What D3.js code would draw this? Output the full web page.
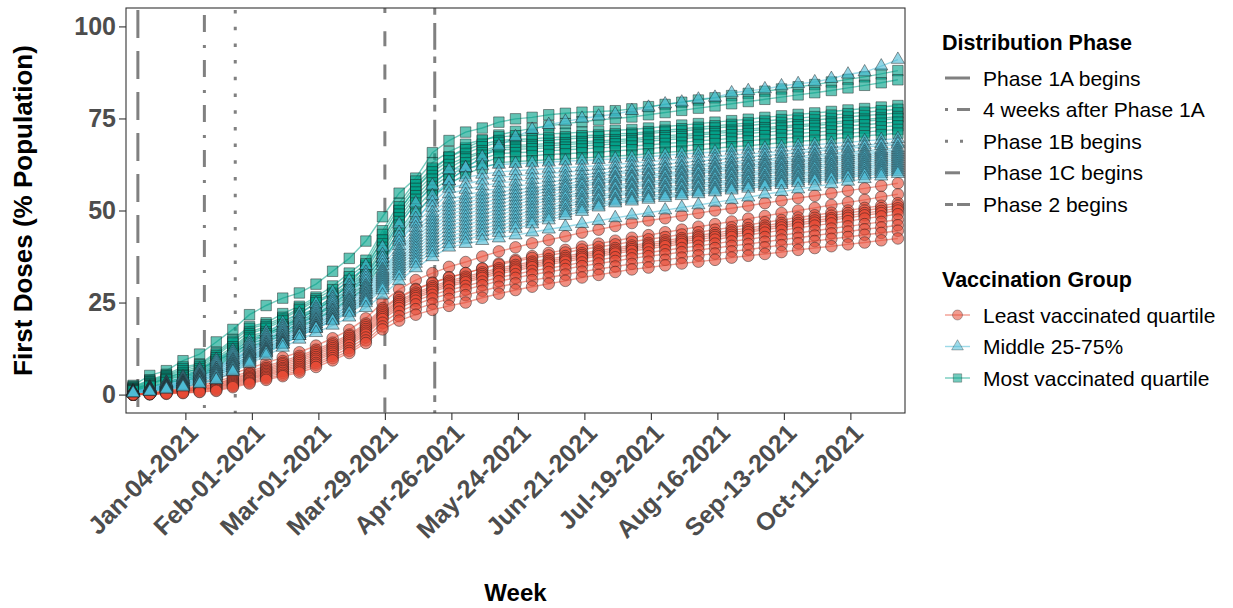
<!DOCTYPE html>
<html>
<head>
<meta charset="utf-8">
<script src="https://cdn.jsdelivr.net/npm/d3@7"></script>
<style>
  body { margin: 0; background: #fff; font-family: "Liberation Sans", Arial, sans-serif; }
</style>
</head>
<body>
<div id="chart"></div>
<script>
// weekly first-dose coverage, one value per week (Sundays) from firstWeek to lastWeek
var firstWeek = "2020-12-13", lastWeek = "2021-10-31";

var tickDates = ["2021-01-04","2021-02-01","2021-03-01","2021-03-29","2021-04-26","2021-05-24",
                 "2021-06-21","2021-07-19","2021-08-16","2021-09-13","2021-10-11"];
var tickLabels = ["Jan-04-2021","Feb-01-2021","Mar-01-2021","Mar-29-2021","Apr-26-2021","May-24-2021",
                  "Jun-21-2021","Jul-19-2021","Aug-16-2021","Sep-13-2021","Oct-11-2021"];
var yTicks = [0, 25, 50, 75, 100];

var phaseNames = ["Phase 1A begins","4 weeks after Phase 1A","Phase 1B begins","Phase 1C begins","Phase 2 begins"];
var phaseDates = ["2020-12-15","2021-01-12","2021-01-25","2021-03-29","2021-04-19"];

var groupNames = ["Least vaccinated quartile","Middle 25-75%","Most vaccinated quartile"];

// Least vaccinated quartile (% population with first dose)
var leastVax = [
 [0,0.4,1.1,1.9,3,4.3,5.7,7.2,8.6,10.1,11.5,13.3,15.3,17.6,20.7,25,28.6,31.1,33,34.7,36,37.5,38.9,40,41.1,42,43,44,44.8,45.8,46.6,47.3,47.9,48.6,49.3,50,50.6,51.3,52,52.7,53.4,54,54.7,55.4,56,56.7,57.4],
 [0,0.3,0.9,1.6,2.5,3.5,4.9,6.3,7.7,9.1,10.5,12.2,14.1,16.3,19.3,23.5,26.6,28.7,30.4,31.9,33,34.3,35.6,36.6,37.6,38.5,39.3,40.2,41,41.8,42.6,43.3,44.1,44.8,45.6,46.3,47,47.8,48.5,49.3,50,50.7,51.5,52.2,52.9,53.7,54.4],
 [0,0.3,0.8,1.4,2.1,3,4.4,5.8,7.2,8.6,10,11.7,13.6,15.9,18.8,23,26.3,28.5,30.3,31.8,33,34.2,35.3,36.2,37.1,37.8,38.6,39.4,40.1,40.8,41.5,42.2,42.8,43.5,44.1,44.8,45.4,46.1,46.8,47.4,48.1,48.7,49.4,50,50.7,51.3,52],
 [0,0.3,0.7,1.3,2,2.8,4.1,5.5,6.8,8.2,9.5,11.2,13.1,15.4,18.3,22.5,25.6,27.7,29.4,30.9,32,33.2,34.3,35.2,36.1,36.8,37.6,38.4,39.1,39.8,40.5,41.2,41.9,42.5,43.2,43.9,44.6,45.2,45.9,46.6,47.3,48,48.6,49.3,50,50.6,51.3],
 [0,0.2,0.6,1.1,1.8,2.5,3.8,5.1,6.4,7.7,9,10.7,12.6,14.9,17.8,22,25.1,27.2,28.9,30.4,31.5,32.7,33.8,34.7,35.6,36.3,37.1,37.9,38.6,39.3,40,40.7,41.3,42,42.7,43.3,44,44.6,45.3,46,46.6,47.3,47.9,48.6,49.3,49.9,50.6],
 [0,0.2,0.5,1,1.5,2.2,3.5,4.7,6,7.2,8.5,10.2,12.1,14.4,17.3,21.5,24.6,26.7,28.4,29.9,31,32.2,33.3,34.2,35.1,35.8,36.6,37.4,38.1,38.8,39.5,40.2,40.8,41.5,42.1,42.8,43.4,44.1,44.8,45.4,46.1,46.7,47.4,48,48.7,49.3,50],
 [0,0.2,0.5,0.9,1.4,2,3.2,4.4,5.6,6.8,8,9.7,11.6,13.9,16.8,21,24.1,26.2,27.9,29.4,30.5,31.7,32.8,33.7,34.6,35.3,36.1,36.9,37.6,38.3,39,39.6,40.3,40.9,41.5,42.1,42.8,43.4,44,44.6,45.3,45.9,46.5,47.1,47.8,48.4,49],
 [0,0.2,0.5,0.8,1.3,1.8,2.9,4.1,5.2,6.4,7.5,9.2,11.1,13.4,16.3,20.5,23.5,25.5,27.1,28.4,29.5,30.7,31.8,32.7,33.6,34.3,35.1,35.9,36.6,37.3,38,38.6,39.2,39.8,40.4,41,41.6,42.2,42.8,43.3,43.9,44.5,45.1,45.7,46.3,46.9,47.5],
 [0,0.1,0.4,0.7,1.1,1.5,2.6,3.7,4.8,5.9,7,8.6,10.5,12.6,15.5,19.5,22.5,24.5,26.1,27.4,28.5,29.7,30.8,31.7,32.6,33.3,34.1,34.9,35.6,36.3,37,37.6,38.1,38.7,39.3,39.8,40.4,40.9,41.5,42.1,42.6,43.2,43.8,44.3,44.9,45.4,46],
 [0,0.1,0.3,0.5,0.8,1.2,2.3,3.3,4.4,5.4,6.5,8.1,9.9,11.9,14.7,18.5,21.3,23.2,24.7,26,27,28.2,29.3,30.2,31.1,31.8,32.6,33.4,34.1,34.8,35.5,36.1,36.6,37.2,37.8,38.3,38.9,39.4,40,40.6,41.1,41.7,42.3,42.8,43.4,43.9,44.5],
 [0,0.1,0.2,0.4,0.7,1,2,3,4,5,6,7.5,9.3,11.3,14,17.7,20.1,21.7,23,24.1,25,26.3,27.4,28.4,29.3,30.1,30.9,31.8,32.5,33.3,34,34.5,35.1,35.6,36.1,36.6,37.2,37.7,38.2,38.7,39.3,39.8,40.3,40.8,41.3,41.9,42.4]
];

// Middle 25-75%
var middleVax = [
 [1,2,3,4,5.5,7.5,9.5,12,14.5,17,19,21.5,24.5,28,32,37,42,47,53,58,61.5,64.5,67.5,70,72,73.3,74.2,75,75.6,76.2,77.1,78,78.9,79.4,80.2,80.7,81.9,82.5,83,83.8,84.4,84.9,85.8,87,87.6,89.2,91],
 [0.9,1.9,3.3,4.8,6.9,9.5,12,14.5,17,19.5,22,24.7,27.8,31,35,40,46.3,52,56.8,61,61.6,62.1,62.5,62.7,62.9,63.1,63.4,63.6,63.8,64,64.3,64.6,65,65.3,65.6,65.9,66.3,66.6,66.9,67.2,67.6,67.9,68.2,68.5,68.9,69.2,69.5],
 [0.9,1.9,3.2,4.6,6.6,9,11.4,13.8,16.2,18.6,21,23.6,26.4,29.5,33.2,38,44,49.4,54,58,59,59.8,60.5,60.8,61.1,61.4,61.6,61.9,62.2,62.5,62.9,63.2,63.6,63.9,64.3,64.6,65,65.3,65.7,66,66.4,66.7,67.1,67.4,67.8,68.1,68.5],
 [0.8,1.7,3,4.3,6.2,8.5,10.9,13.3,15.7,18.1,20.5,23,25.8,28.8,32.4,37,42.7,47.8,52.2,56,57.2,58.2,59,59.4,59.7,60.1,60.4,60.8,61.1,61.5,61.9,62.3,62.6,63,63.4,63.8,64.2,64.6,64.9,65.3,65.7,66.1,66.5,66.9,67.2,67.6,68],
 [0.8,1.7,2.8,4,5.8,8,10.4,12.8,15.2,17.6,20,22.4,25.1,28,31.5,36,41.6,46.5,50.8,54.5,55.7,56.7,57.5,57.9,58.4,58.8,59.2,59.6,60.1,60.5,60.9,61.3,61.6,62,62.4,62.8,63.2,63.6,63.9,64.3,64.7,65.1,65.5,65.9,66.2,66.6,67],
 [0.8,1.6,2.7,3.8,5.5,7.5,9.9,12.3,14.7,17.1,19.5,21.8,24.5,27.3,30.7,35,40.4,45.3,49.4,53,54.2,55.2,56,56.6,57.1,57.7,58.3,58.9,59.4,60,60.4,60.8,61.1,61.5,61.9,62.3,62.7,63.1,63.4,63.8,64.2,64.6,65,65.4,65.7,66.1,66.5],
 [0.7,1.5,2.5,3.5,5.1,7,9.4,11.8,14.2,16.6,19,21.3,23.8,26.5,29.8,34,39.4,44.3,48.4,52,53.2,54.2,55,55.6,56.1,56.7,57.3,57.9,58.4,59,59.4,59.8,60.2,60.6,61.1,61.5,61.9,62.3,62.7,63.1,63.5,63.9,64.4,64.8,65.2,65.6,66],
 [0.7,1.5,2.5,3.5,5.1,7,9.3,11.6,13.9,16.2,18.5,20.8,23.3,26,29.3,33.5,38.8,43.5,47.5,51,52.2,53.2,54,54.6,55.3,55.9,56.6,57.2,57.9,58.5,58.9,59.3,59.7,60.1,60.6,61,61.4,61.8,62.2,62.6,63,63.4,63.9,64.3,64.7,65.1,65.5],
 [0.7,1.4,2.3,3.3,4.8,6.5,8.8,11.1,13.4,15.7,18,20.3,22.8,25.5,28.8,33,38.1,42.7,46.6,50,51.2,52.2,53,53.7,54.4,55.1,55.9,56.6,57.3,58,58.4,58.8,59.2,59.6,60.1,60.5,60.9,61.3,61.7,62.1,62.5,62.9,63.4,63.8,64.2,64.6,65],
 [0.6,1.3,2.3,3.3,4.7,6.5,8.8,11.1,13.4,15.7,18,20.2,22.6,25.3,28.4,32.5,37.5,41.9,45.7,49,50.2,51.2,52,52.7,53.4,54.1,54.9,55.6,56.3,57,57.4,57.9,58.3,58.8,59.2,59.6,60.1,60.5,61,61.4,61.9,62.3,62.7,63.2,63.6,64.1,64.5],
 [0.6,1.2,2.1,3,4.4,6,8.3,10.6,12.9,15.2,17.5,19.7,22.1,24.8,27.9,32,36.8,41.1,44.8,48,49.2,50.2,51,51.8,52.6,53.4,54.1,54.9,55.7,56.5,56.9,57.4,57.8,58.3,58.7,59.1,59.6,60,60.5,60.9,61.4,61.8,62.2,62.7,63.1,63.6,64],
 [0.6,1.2,2.1,3,4.4,6,8.2,10.4,12.6,14.8,17,19.2,21.6,24.3,27.4,31.5,36.2,40.3,43.9,47,48.2,49.2,50,50.9,51.7,52.6,53.4,54.3,55.1,56,56.4,56.9,57.3,57.8,58.2,58.6,59.1,59.5,60,60.4,60.9,61.3,61.7,62.2,62.6,63.1,63.5],
 [0.6,1.2,2,2.8,4,5.5,7.8,10.1,12.4,14.7,17,19.1,21.5,24,27.1,31,35.5,39.6,43,46,47.2,48.2,49,49.9,50.7,51.6,52.4,53.3,54.1,55,55.5,55.9,56.4,56.9,57.4,57.8,58.3,58.8,59.2,59.7,60.2,60.6,61.1,61.6,62.1,62.5,63],
 [0.5,1.1,1.9,2.8,4,5.5,7.7,9.9,12.1,14.3,16.5,18.6,21,23.5,26.6,30.5,34.9,38.8,42.1,45,46.2,47.2,48,48.9,49.9,50.8,51.7,52.6,53.6,54.5,55,55.4,55.9,56.4,56.9,57.3,57.8,58.3,58.7,59.2,59.7,60.1,60.6,61.1,61.6,62,62.5],
 [0.5,1,1.8,2.5,3.7,5,7.3,9.6,11.9,14.2,16.5,18.5,20.8,23.3,26.2,30,34.2,38,41.2,44,45.2,46.2,47,48,49,50,51,52,53,54,54.5,54.9,55.4,55.9,56.4,56.8,57.3,57.8,58.2,58.7,59.2,59.6,60.1,60.6,61.1,61.5,62],
 [0.5,1,1.8,2.5,3.7,5,7.2,9.4,11.6,13.8,16,18,20.3,22.8,25.7,29.5,33.6,37.2,40.3,43,44.2,45.2,46,47,48,49,50,51,52,53,53.5,54,54.5,55,55.5,56,56.5,57,57.5,58,58.5,59,59.5,60,60.5,61,61.5],
 [0.5,1,1.6,2.3,3.3,4.5,6.8,9.1,11.4,13.7,16,18,20.2,22.5,25.4,29,32.9,36.4,39.4,42,43.2,44.2,45,46.1,47.1,48.2,49.3,50.4,51.4,52.5,53,53.5,54,54.5,55,55.5,56,56.5,57,57.5,58,58.5,59,59.5,60,60.5,61],
 [0.5,0.9,1.5,2.2,3,4,6.4,8.8,11.2,13.6,16,17.9,20,22.2,24.9,28.4,32.2,35.6,38.5,41,42.2,43.2,44,45.1,46.3,47.4,48.6,49.7,50.9,52,52.5,53,53.5,54,54.5,55,55.5,56,56.5,57,57.5,58,58.5,59,59.5,60,60.5],
 [0.4,0.8,1.4,2,2.9,4,6.2,8.4,10.6,12.8,15,16.8,18.8,21,23.6,27,30.9,34.4,37.4,40,41,41.8,42.5,43.3,44.1,44.9,45.6,46.4,47.2,48,48.7,49.4,50.1,50.8,51.5,52.2,52.9,53.6,54.4,55.1,55.8,56.5,57.2,57.9,58.6,59.3,60]
];

// Most vaccinated quartile
var mostVax = [
 [2.5,5.2,6.5,9.2,11,14.3,17.7,21.7,24.2,26.2,27.6,30,33.5,37,41.7,48.3,54.7,58.8,65.7,69,71.3,72.4,74,74.9,75.3,76,76.4,76.7,76.9,77.1,77.6,78.2,78.8,79.4,80,80.6,81.2,81.8,82.4,83,83.6,84.2,84.9,85.6,86.3,87.1,88],
 [1.5,3,4.5,6,7,9,11.5,14,16.5,18.5,20.5,23,26,30,35,42,50,56,61,64.5,67,69,70.5,71.5,72.3,73,73.6,74.1,74.6,75,75.4,76,76.6,77.2,77.8,78.4,79,79.6,80.2,80.8,81.4,82,82.6,83.3,84,84.7,85.5],
 [2.2,4,5.5,7.5,8.3,11.5,15,18.5,19.5,22,24,26.5,29.5,33,36.5,44.5,52,58,63,66,68,69.2,70,70.3,70.5,70.8,71,71.3,71.5,71.8,72,72.4,72.8,73.2,73.6,74,74.4,74.8,75.3,75.7,76.1,76.5,76.9,77.3,77.7,78.1,78.5],
 [2,3.8,5.2,7,8,11,14.5,18,19,21,23.5,26,28.5,32,35.5,43.5,51,57,61.5,64.5,66.5,68,69,69.3,69.5,69.8,70,70.3,70.5,70.8,71,71.4,71.8,72.2,72.6,73,73.4,73.8,74.3,74.7,75.1,75.5,75.9,76.3,76.7,77.1,77.5],
 [1.8,3.5,5,6.5,7.5,10.5,14,17,18.5,20.5,23,25.5,27.5,31,34.5,42,50,56,60.5,63.5,65.5,67.3,68.5,68.7,68.9,69.1,69.4,69.7,70,70.2,70.5,70.9,71.3,71.6,72,72.4,72.8,73.1,73.5,73.9,74.3,74.6,75,75.4,75.8,76.1,76.5],
 [1.6,3.3,4.7,6,7,10,13,16.5,18,20,22,25,27,30,33.5,41,49,55,59.5,62.5,64.5,66.2,67.5,67.7,67.9,68.2,68.4,68.7,68.9,69.2,69.5,69.9,70.3,70.6,71,71.4,71.8,72.1,72.5,72.9,73.3,73.6,74,74.4,74.8,75.1,75.5],
 [1.5,3,4.4,5.5,6.5,9.5,12.5,16,17,19,21.5,23.5,26.5,29.5,32.5,40,48,54,58.5,61.5,64,65.7,67,67.2,67.4,67.6,67.9,68.2,68.4,68.7,69,69.4,69.8,70.1,70.5,70.9,71.3,71.6,72,72.4,72.8,73.1,73.5,73.9,74.3,74.6,75],
 [1.3,2.8,4.2,5.2,6,9,12,15.5,16.5,18.5,21,23,25.5,28.5,32,39,47,53,57.5,60.5,63,65,66.5,66.6,66.8,67,67.2,67.5,67.8,68.1,68.5,68.8,69.2,69.5,69.9,70.2,70.6,70.9,71.3,71.6,71.9,72.3,72.6,73,73.3,73.7,74],
 [1.2,2.6,4,5,5.5,8.5,11.5,15,16,18,20,22,24.5,28,31,38,46,52,56.5,59.5,62,64,65.5,65.7,65.9,66.2,66.5,66.7,67,67.2,67.5,67.8,68.2,68.5,68.9,69.2,69.6,69.9,70.3,70.6,70.9,71.3,71.6,72,72.3,72.7,73],
 [1.1,2.4,3.6,4.5,5,8,11,14,15,17,19.5,21.5,24,27,30,37,44.5,50.5,55.5,58.5,61,62.8,64.5,64.7,64.9,65.2,65.4,65.7,65.9,66.2,66.5,66.8,67.2,67.5,67.9,68.2,68.6,68.9,69.3,69.6,69.9,70.3,70.6,71,71.3,71.7,72],
 [1,2.2,3.2,4,4.5,7.5,10.5,13,14.5,16,18.5,20.5,23,26,29,36,43,49,54,57,60,61.5,63,63.3,63.5,63.8,64,64.3,64.5,64.8,65,65.4,65.8,66.1,66.5,66.9,67.3,67.6,68,68.4,68.8,69.1,69.5,69.9,70.3,70.6,71]
];

var W = 1233, H = 608;
var panel = {left: 126, right: 905, top: 8, bottom: 413};

var svg = d3.select("#chart")
  .append("svg")
    .attr("width", W)
    .attr("height", H);

var parseDate = d3.timeParse("%Y-%m-%d");
var weekDates = d3.timeWeek.range(parseDate(firstWeek), d3.timeDay.offset(parseDate(lastWeek), 1));

var x = d3.scaleTime()
  .domain([parseDate("2020-12-10"), parseDate("2021-11-03")])
  .range([panel.left, panel.right]);

var y = d3.scaleLinear()
  .domain([-5, 105])
  .range([panel.bottom, panel.top]);

// phase line styles (dash pattern + offset so pattern starts like the original)
var phaseDash = ["28 13", "17 13 3 12", "3.5 13.2", "15 18.3", "26.7 6.7 6.7 8.3"];
var phaseOffset = [39, 38, 14.7, 10, 33.4];
var phaseKeyDash = ["28 13", "3 9 13 20", "3 12", "15 18", "8 4 13 10"];

var groups = [
  {name: groupNames[0], data: leastVax,  color: "#E64B35", shape: "circle"},
  {name: groupNames[1], data: middleVax, color: "#4DBBD5", shape: "triangle"},
  {name: groupNames[2], data: mostVax,   color: "#00A087", shape: "square"}
];

// vertical phase lines
svg.selectAll(".phase")
  .data(phaseDates)
  .enter()
  .append("line")
    .attr("x1", function(d) { return x(parseDate(d)); })
    .attr("x2", function(d) { return x(parseDate(d)); })
    .attr("y1", panel.top)
    .attr("y2", panel.bottom)
    .attr("stroke", "#808080")
    .attr("stroke-width", 3)
    .attr("stroke-dasharray", function(d, i) { return phaseDash[i]; })
    .attr("stroke-dashoffset", function(d, i) { return phaseOffset[i]; });

var line = d3.line()
  .x(function(d, i) { return x(weekDates[i]); })
  .y(function(d) { return y(d); });

// lines under points
groups.forEach(function(g) {
  svg.append("g")
    .selectAll("path")
    .data(g.data)
    .enter()
    .append("path")
      .attr("d", line)
      .attr("fill", "none")
      .attr("stroke", g.color)
      .attr("stroke-opacity", 0.55)
      .attr("stroke-width", 1.4);
});

var triSym = d3.symbol().type(d3.symbolTriangle).size(75);
var sqSym = d3.symbol().type(d3.symbolSquare).size(110);

function drawMarker(sel, shape, color, big) {
  var m;
  if (shape === "circle") {
    m = sel.append("circle").attr("r", big ? 5.8 : 5);
  } else if (shape === "triangle") {
    m = sel.append("path").attr("d", big ? triSym() : d3.symbol().type(d3.symbolTriangle).size(60)());
  } else {
    m = sel.append("path").attr("d", big ? sqSym() : d3.symbol().type(d3.symbolSquare).size(70)());
  }
  m.attr("fill", color)
   .attr("fill-opacity", big ? 0.62 : 0.55)
   .attr("stroke", "#1a1a1a")
   .attr("stroke-opacity", big ? 0.5 : 0.35)
   .attr("stroke-width", 0.9);
}

// points: green first, then red, blue on top
[groups[2], groups[0], groups[1]].forEach(function(g) {
  var layer = svg.append("g");
  g.data.forEach(function(series) {
    series.forEach(function(v, i) {
      var p = layer.append("g")
        .attr("transform", "translate(" + x(weekDates[i]) + "," + y(v) + ")");
      drawMarker(p, g.shape, g.color, true);
    });
  });
});

// panel border
svg.append("rect")
  .attr("x", panel.left)
  .attr("y", panel.top)
  .attr("width", panel.right - panel.left)
  .attr("height", panel.bottom - panel.top)
  .attr("fill", "none")
  .attr("stroke", "#333")
  .attr("stroke-width", 1.1);

// X axis
var xAxis = svg.append("g")
  .attr("transform", "translate(0," + panel.bottom + ")")
  .call(d3.axisBottom(x)
    .tickValues(tickDates.map(parseDate))
    .tickFormat(function(d, i) { return tickLabels[i]; })
    .tickSize(7));
xAxis.select(".domain").remove();
xAxis.selectAll("line").attr("stroke", "#333").attr("stroke-width", 1.1);
xAxis.selectAll("text")
  .attr("x", 0)
  .attr("y", 0)
  .attr("dy", "0.72em")
  .attr("transform", "translate(1,9) rotate(-45)")
  .style("text-anchor", "end")
  .style("font-family", "Liberation Sans, Arial, sans-serif")
  .style("font-size", "25px")
  .style("font-weight", "bold")
  .attr("fill", "#4D4D4D");

// Y axis
var yAxis = svg.append("g")
  .attr("transform", "translate(" + panel.left + ",0)")
  .call(d3.axisLeft(y).tickValues(yTicks).tickSize(7).tickPadding(3));
yAxis.select(".domain").remove();
yAxis.selectAll("line").attr("stroke", "#333").attr("stroke-width", 1.1);
yAxis.selectAll("text")
  .style("font-family", "Liberation Sans, Arial, sans-serif")
  .style("font-size", "25px")
  .style("font-weight", "bold")
  .attr("fill", "#4D4D4D");

// axis titles
svg.append("text")
  .attr("transform", "translate(32," + ((panel.top + panel.bottom) / 2) + ") rotate(-90)")
  .attr("text-anchor", "middle")
  .style("font-size", "26px")
  .style("font-weight", "bold")
  .text("First Doses (% Population)");

svg.append("text")
  .attr("x", (panel.left + panel.right) / 2)
  .attr("y", 601)
  .attr("text-anchor", "middle")
  .style("font-size", "24px")
  .style("font-weight", "bold")
  .text("Week");

// Legend: Distribution Phase
var lgX = 942;
svg.append("text")
  .attr("x", lgX).attr("y", 50)
  .style("font-size", "21.5px").style("font-weight", "bold")
  .text("Distribution Phase");

phaseNames.forEach(function(n, i) {
  var yy = 78 + i * 31.6;
  svg.append("line")
    .attr("x1", 945).attr("x2", 970)
    .attr("y1", yy).attr("y2", yy)
    .attr("stroke", "#808080").attr("stroke-width", 3)
    .attr("stroke-dasharray", phaseKeyDash[i]);
  svg.append("text")
    .attr("x", 983).attr("y", yy).attr("dy", "0.36em")
    .style("font-size", "21px")
    .text(n);
});

// Legend: Vaccination Group
svg.append("text")
  .attr("x", lgX).attr("y", 287)
  .style("font-size", "21.5px").style("font-weight", "bold")
  .text("Vaccination Group");

groups.forEach(function(g, i) {
  var yy = 315 + i * 31.5;
  svg.append("line")
    .attr("x1", 945).attr("x2", 970)
    .attr("y1", yy).attr("y2", yy)
    .attr("stroke", g.color).attr("stroke-opacity", 0.55).attr("stroke-width", 1.4);
  var k = svg.append("g").attr("transform", "translate(957.5," + yy + ")");
  drawMarker(k, g.shape, g.color, false);
  svg.append("text")
    .attr("x", 983).attr("y", yy).attr("dy", "0.36em")
    .style("font-size", "21px")
    .text(g.name);
});
</script>
</body>
</html>
